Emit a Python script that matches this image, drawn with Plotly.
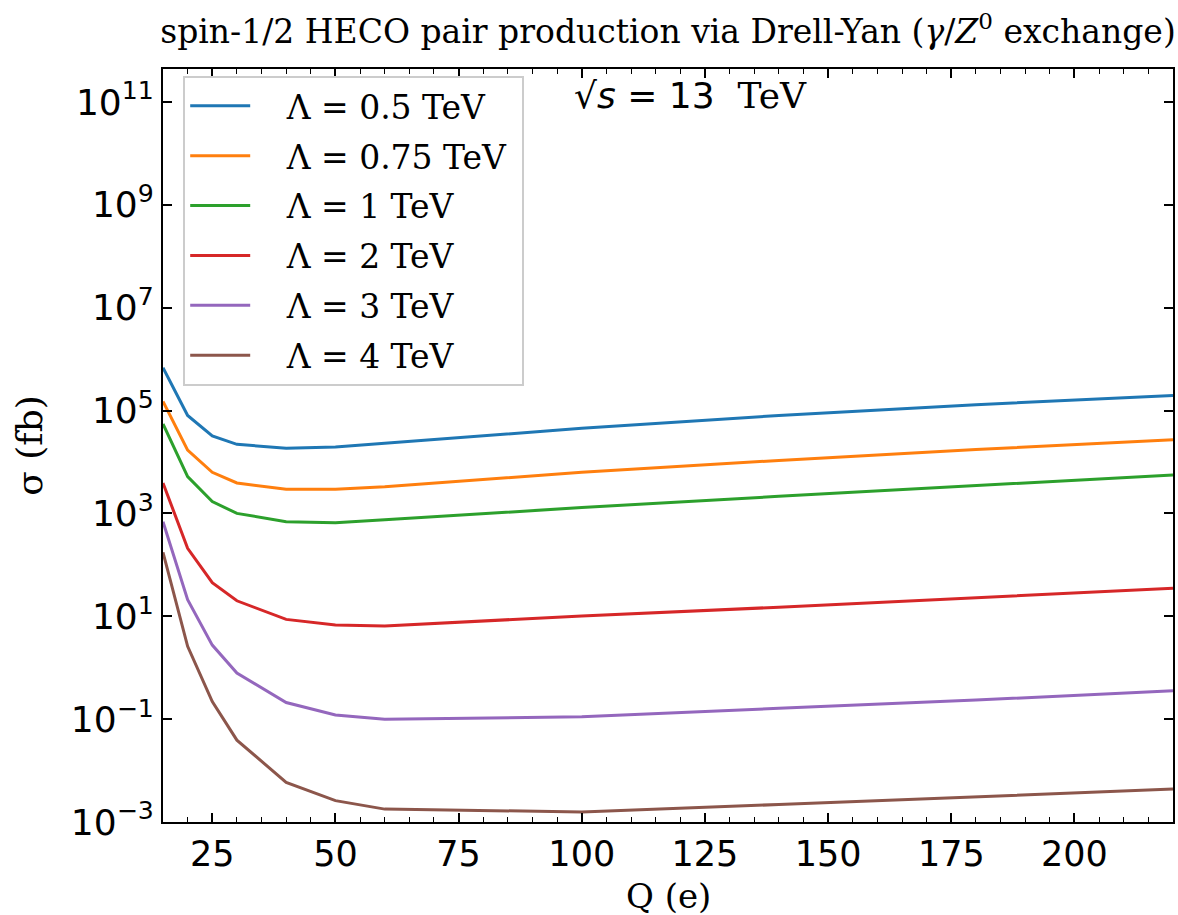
import plotly.graph_objects as go

Q = [15, 20, 25, 30, 40, 50, 60, 100, 140, 180, 220]

labels = ["Λ = 0.5 TeV", "Λ = 0.75 TeV", "Λ = 1 TeV", "Λ = 2 TeV", "Λ = 3 TeV", "Λ = 4 TeV"]
colors = ["#1f77b4", "#ff7f0e", "#2ca02c", "#d62728", "#9467bd", "#8c564b"]

# sigma (fb)
sigma_05 = [6.8e5, 8.0e4, 3.2e4, 2.2e4, 1.85e4, 1.95e4, 2.3e4, 4.5e4, 8.0e4, 1.3e5, 1.95e5]
sigma_075 = [1.5e5, 1.7e4, 6.3e3, 3.9e3, 2.95e3, 2.95e3, 3.3e3, 6.3e3, 1.07e4, 1.75e4, 2.7e4]
sigma_1 = [5.5e4, 5.2e3, 1.7e3, 1.0e3, 6.9e2, 6.6e2, 7.5e2, 1.3e3, 2.15e3, 3.5e3, 5.6e3]
sigma_2 = [3.9e3, 2.1e2, 45.0, 20.0, 8.7, 6.8, 6.5, 10.1, 15.0, 23.0, 35.0]
sigma_3 = [6.9e2, 21.0, 2.75, 0.79, 0.21, 0.12, 0.099, 0.111, 0.162, 0.235, 0.355]
sigma_4 = [1.75e2, 2.6, 0.22, 0.039, 0.0059, 0.0026, 0.00178, 0.00157, 0.00219, 0.0031, 0.00436]

series = [sigma_05, sigma_075, sigma_1, sigma_2, sigma_3, sigma_4]

ytick_exp = [-3, -1, 1, 3, 5, 7, 9, 11]
ytick_vals = [10.0 ** e for e in ytick_exp]
ytick_text = ["10<sup>%s</sup>" % ("−" + str(-e) if e < 0 else str(e)) for e in ytick_exp]

SERIF = "DejaVu Serif"
SANS = "DejaVu Sans"
NB = "\u00a0"

fig = go.Figure()
for i, (lab, col, ys) in enumerate(zip(labels, colors, series)):
    fig.add_trace(go.Scatter(
        x=Q, y=ys, mode="lines", name=NB * 3 + lab + NB,
        line=dict(color=col, width=3),
        legendgroup="g%d" % i,
    ))

fig.update_layout(
    width=1178, height=915,
    margin=dict(l=163, r=3, t=69, b=93),
    paper_bgcolor="white", plot_bgcolor="white",
    title=dict(
        text="spin-1/2 HECO pair production via Drell-Yan (<i>γ</i>/<i>Z</i><sup>0</sup> exchange)",
        font=dict(family=SERIF, size=33, color="black"),
        x=0.5, xref="paper", xanchor="center",
        y=1 - 31 / 915, yref="container", yanchor="middle",
    ),
    legend=dict(
        x=0.02, y=0.991, xanchor="left", yanchor="top",
        bgcolor="white", bordercolor="#cccccc", borderwidth=2,
        font=dict(family=SERIF, size=33, color="black"),
        traceorder="grouped", tracegroupgap=4,
        itemwidth=60,
    ),
    showlegend=True,
)

fig.update_xaxes(
    range=[15, 220], tick0=0, dtick=25,
    ticks="inside", ticklen=9, tickwidth=1.5, tickcolor="black",
    minor=dict(dtick=5, ticks="inside", ticklen=5, tickwidth=1.2, tickcolor="black"),
    showline=True, linecolor="black", linewidth=2, mirror="allticks",
    showgrid=False, zeroline=False,
    tickfont=dict(family=SANS, size=35, color="black"),
)

fig.update_yaxes(
    type="log", range=[-3, 11.64],
    tickvals=ytick_vals, ticktext=ytick_text,
    ticks="inside", ticklen=9, tickwidth=1.5, tickcolor="black",
    showline=True, linecolor="black", linewidth=2, mirror="allticks",
    showgrid=False, zeroline=False,
    tickfont=dict(family=SANS, size=36, color="black"),
    title=dict(text="σ (fb)", font=dict(family=SERIF, size=36, color="black"), standoff=17),
)

fig.add_annotation(
    text="Q (e)", xref="paper", yref="paper", x=0.5, y=-0.098,
    xanchor="center", yanchor="middle", showarrow=False,
    font=dict(family=SERIF, size=34, color="black"),
)

fig.add_annotation(
    text="√<i>s</i> = 13  <span style=\"font-family:'DejaVu Serif'\">TeV</span>",
    xref="paper", yref="paper", x=0.405, y=0.995, xanchor="left", yanchor="top",
    showarrow=False, font=dict(family=SANS, size=36, color="black"),
)

fig.write_html("out.html")
